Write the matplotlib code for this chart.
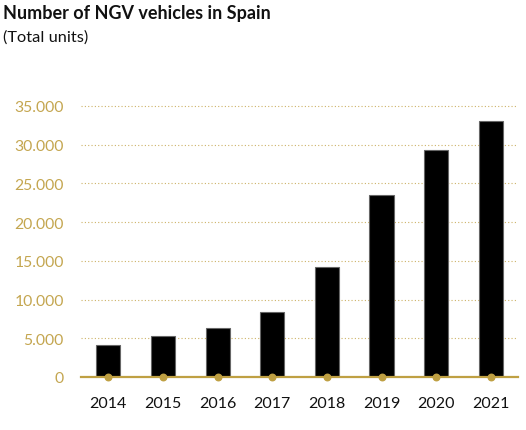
import matplotlib
matplotlib.use("Agg")
import matplotlib.pyplot as plt

years = ["2014", "2015", "2016", "2017", "2018", "2019", "2020", "2021"]
vehicles = [4150, 5300, 6330, 8360, 14250, 23550, 29350, 33000]
yticks = [0, 5000, 10000, 15000, 20000, 25000, 30000, 35000]
ytick_labels = ["0", "5.000", "10.000", "15.000", "20.000", "25.000", "30.000", "35.000"]

GOLD = "#BFA043"
plt.rcParams['font.family'] = ['Lato', 'DejaVu Sans']

fig = plt.figure(figsize=(5.26, 4.31), dpi=100)
ax = fig.add_axes([0.154, 0.123, 0.831, 0.647])

x = list(range(len(years)))
ax.bar(x, vehicles, width=0.44, color="black", edgecolor="#666666", linewidth=0.8, zorder=3)
ax.scatter(x, [0]*len(x), s=22, color=GOLD, zorder=5, clip_on=False)

ax.set_xlim(-0.5, len(years) - 0.5)
ax.set_ylim(0, 36000)
ax.set_yticks(yticks)
ax.set_yticklabels(ytick_labels)
ax.set_xticks(x)
ax.set_xticklabels(years)

ax.tick_params(axis='y', length=0, pad=12.5, labelsize=11.3, labelcolor="#C4A650")
ax.tick_params(axis='x', length=0, pad=14, labelsize=11.5, labelcolor="#111111")

ax.grid(axis='y', linestyle=(0, (1, 2)), color="#CDB368", linewidth=0.8, zorder=0)
ax.set_axisbelow(True)
for s in ["top", "right", "left"]:
    ax.spines[s].set_visible(False)
ax.spines["bottom"].set_color(GOLD)
ax.spines["bottom"].set_linewidth(1.6)
ax.spines["bottom"].set_zorder(4)

fig.text(0.006, 0.988, "Number of NGV vehicles in Spain", fontsize=13, fontweight="bold",
         va="top", ha="left", color="#111111")
fig.text(0.006, 0.930, "(Total units)", fontsize=11.8, va="top", ha="left", color="#111111")

fig.savefig("out.png", dpi=100)
